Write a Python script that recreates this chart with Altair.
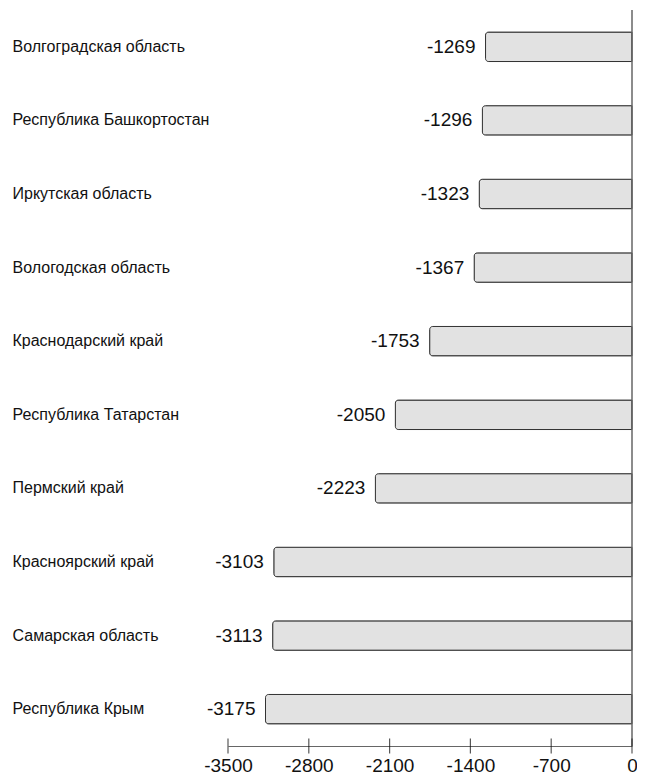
import altair as alt
import pandas as pd

regions = [
    "Волгоградская область",
    "Республика Башкортостан",
    "Иркутская область",
    "Вологодская область",
    "Краснодарский край",
    "Республика Татарстан",
    "Пермский край",
    "Красноярский край",
    "Самарская область",
    "Республика Крым",
]
values = [-1269, -1296, -1323, -1367, -1753, -2050, -2223, -3103, -3113, -3175]
tick_values = [-3500, -2800, -2100, -1400, -700, 0]

df = pd.DataFrame({"region": regions, "value": values})
ticks_df = pd.DataFrame({"t": tick_values})

FONT = "Liberation Sans"
W, H = 404, 736

xscale = alt.Scale(domain=[-3500, 0], nice=False, zero=False)
yscale = alt.Scale(paddingInner=0.6, paddingOuter=0.3)

base = alt.Chart(df).transform_calculate(label="'' + datum.value")

bars = base.mark_bar(
    fill="#e2e2e2",
    stroke="#333333",
    strokeWidth=1,
    cornerRadiusTopLeft=3,
    cornerRadiusBottomLeft=3,
).encode(
    x=alt.X(
        "value:Q",
        scale=xscale,
        axis=alt.Axis(
            values=tick_values,
            title=None,
            grid=False,
            ticks=False,
            domain=True,
            domainColor="#666666",
            domainWidth=1,
            labelFont=FONT,
            labelFontSize=19,
            labelColor="#111111",
            labelPadding=10,
            labelFlush=False,
            labelOverlap=False,
            labelExpr="'' + datum.value",
        ),
    ),
    y=alt.Y(
        "region:N",
        sort=None,
        scale=yscale,
        axis=alt.Axis(
            title=None,
            domain=False,
            ticks=False,
            grid=False,
            labelAlign="left",
            labelPadding=216,
            labelFont=FONT,
            labelFontSize=16,
            labelColor="#111111",
            labelLimit=0,
        ),
    ),
)

labels = base.mark_text(
    align="right",
    baseline="middle",
    dx=-10,
    font=FONT,
    fontSize=19,
    color="#111111",
).encode(
    x=alt.X("value:Q", scale=xscale),
    y=alt.Y("region:N", sort=None, scale=yscale),
    text=alt.Text("label:N"),
)

zero_line = alt.Chart(pd.DataFrame({"z": [0]})).mark_rule(
    color="#666666", strokeWidth=1.5
).encode(x=alt.X("z:Q", scale=xscale))

tick_marks = alt.Chart(ticks_df).mark_tick(
    color="#111111", thickness=1.2, size=15
).encode(
    x=alt.X("t:Q", scale=xscale),
    y=alt.value(H),
)

chart = (
    alt.layer(bars, labels, zero_line, tick_marks)
    .properties(
        width=W,
        height=H,
        padding={"left": 4, "top": 1, "right": -1, "bottom": 1},
        background="white",
    )
    .configure_view(stroke=None)
)

chart.save("out.html", embed_options={"renderer": "svg", "actions": False})
